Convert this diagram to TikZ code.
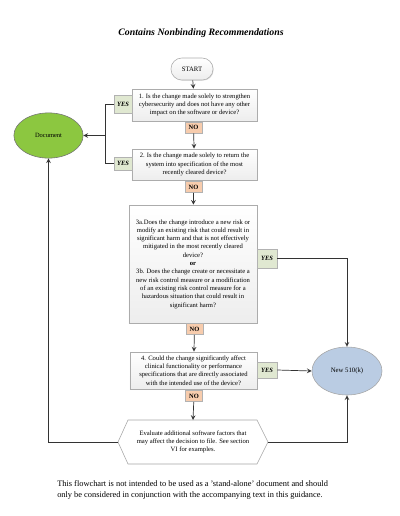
\documentclass[tikz,border=0pt]{standalone}
\usepackage{fontspec}
\setmainfont{Liberation Serif}
\usepackage{xcolor,tikz}
\definecolor{yesgreen}{rgb}{0.88,0.91,0.82}
\definecolor{nopeach}{rgb}{0.97,0.80,0.68}
\definecolor{docgreen}{rgb}{0.55,0.78,0.25}
\definecolor{newblue}{rgb}{0.73,0.80,0.89}
\usetikzlibrary{positioning,shadows,arrows,shapes.geometric}
\tikzset{>=stealth}
\tikzset{
  qbox/.style={draw=gray!65,top color=white,bottom color=gray!14,align=center,inner sep=1pt,
    font=\fontsize{4.7}{5.9}\selectfont,drop shadow={shadow xshift=0.5pt,shadow yshift=-0.5pt,opacity=0.25}},
  yesbox/.style={draw=gray!60,fill=yesgreen,font=\fontsize{4.6}{5}\selectfont\bfseries\itshape,inner sep=0pt},
  nobox/.style={draw=gray!60,fill=nopeach,font=\fontsize{4.6}{5}\selectfont\bfseries,inner sep=0pt,
    minimum width=0.43cm,minimum height=0.28cm},
  link/.style={line width=0.5pt,black!80}
}

\begin{document}
\begin{tikzpicture}[x=0.025cm,y=-0.025cm]
\useasboundingbox (0,0) rectangle (400,516);
\node[font=\fontsize{7}{8}\selectfont\bfseries\itshape] (title) at (201,33) {Contains Nonbinding Recommendations};
\node[qbox,rounded corners=0.27cm,minimum width=1.05cm,minimum height=0.55cm,font=\fontsize{4.8}{5}\selectfont] (start) at (192,69) {START};
\node[qbox,minimum width=3.125cm,minimum height=0.8cm] (q1) at (194.5,105) {1. Is the change made solely to strengthen\\cybersecurity and does not have any other\\impact on the software or device?};
\node[qbox,minimum width=3.125cm,minimum height=0.78cm] (q2) at (194.5,164.5) {2. Is the change made solely to return the\\system into specification of the most\\recently cleared device?};
\node[qbox,minimum width=3.2cm,minimum height=2.95cm] (q3) at (193,264) {3a.Does the change introduce a new risk or\\modify an existing risk that could result in\\significant harm and that is not effectively\\mitigated in the most recently cleared\\device?\\\textbf{or}\\3b. Does the change create or necessitate a\\new risk control measure or a modification\\of an existing risk control measure for a\\hazardous situation that could result in\\significant harm?};
\node[qbox,minimum width=3.175cm,minimum height=0.93cm] (q4) at (193.5,370.5) {4. Could the change significantly affect\\clinical functionality or performance\\specifications that are directly associated\\with the intended use of the device?};
% yes / no tags
\node[yesbox,minimum width=0.45cm,minimum height=0.45cm] (yes1) at (123,104) {YES};
\node[yesbox,minimum width=0.45cm,minimum height=0.33cm] (yes2) at (123,163.5) {YES};
\node[yesbox,minimum width=0.5cm,minimum height=0.48cm] (yes3) at (267,258.5) {YES};
\node[yesbox,minimum width=0.5cm,minimum height=0.4cm] (yes4) at (267,370) {YES};
\node[nobox] (no1) at (193.5,127.5) {NO};
\node[nobox] (no2) at (193.5,187) {NO};
\node[nobox] (no3) at (194.5,329) {NO};
\node[nobox] (no4) at (194,396) {NO};
% end points
\node[ellipse,draw=black!55,fill=docgreen,minimum width=1.73cm,minimum height=1.13cm,inner sep=0pt,font=\fontsize{4.6}{5}\selectfont] (doc) at (48.5,135.5) {Document};
\node[ellipse,draw=gray!70,fill=newblue,minimum width=1.75cm,minimum height=1.2cm,inner sep=0pt,font=\fontsize{4.8}{5}\selectfont] (new) at (347,371) {New 510(k)};
% hexagon
\draw[draw=gray!70,fill=white] (128,420) -- (257,420) -- (268,442) -- (257,464) -- (128,464) -- (118,442) -- cycle;
\node[align=center,font=\fontsize{4.7}{5.9}\selectfont] (eval) at (193,442) {Evaluate additional software factors that\\may affect the decision to file. See section\\VI for examples.};
\coordinate (evalN) at (193,420);
\coordinate (evalL) at (118,442);
\coordinate (evalR) at (268,442);
\coordinate (docjoin) at (105,135.5);
% connectors
\draw[link,->] (start) -- (q1);
\draw[link,->] (no1) -- (q2);
\draw[link,->] (no2) -- (q3);
\draw[link,->] (no3) -- (q4);
\draw[link,->] (no4) -- (evalN);
\draw[link] (yes1.west) -| (docjoin);
\draw[link] (yes2.west) -| (docjoin);
\draw[link,->] (docjoin) -- (doc.east);
\draw[link,->] (yes3.east) -| (new.north);
\draw[link,->] (yes4.east) -- (new.west);
\draw[link,->] (evalL) -| (doc.south);
\draw[link,->] (evalR) -| (new.south);
\node[anchor=north west,align=left,inner sep=0pt,font=\fontsize{5.95}{7.8}\selectfont] (note) at (57,480) {This flowchart is not intended to be used as a 'stand-alone' document and should\\only be considered in conjunction with the accompanying text in this guidance.};
\end{tikzpicture}
\end{document}
